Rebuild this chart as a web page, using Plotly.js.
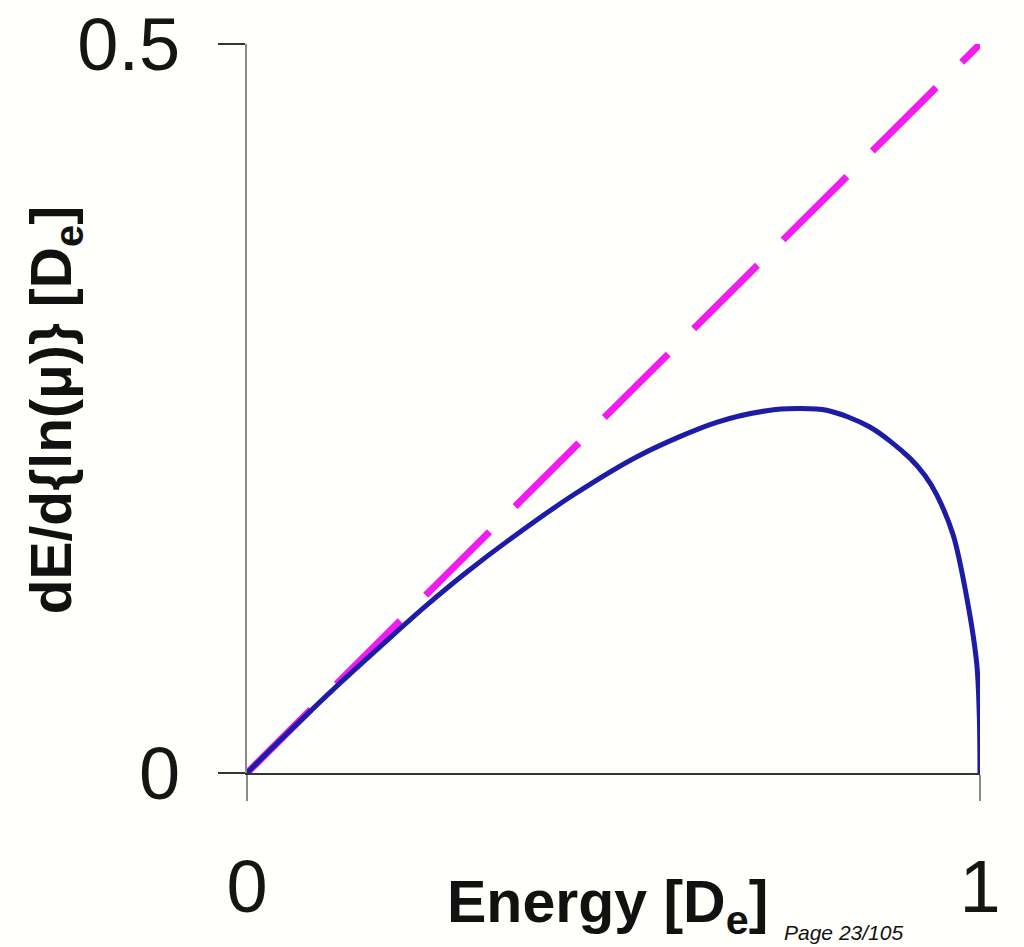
<!DOCTYPE html>
<html>
<head>
<meta charset="utf-8">
<script src="https://cdn.plot.ly/plotly-3.0.1.min.js"></script>
<style>html,body{margin:0;padding:0;background:#fffffb;}#chart{width:1024px;height:947px;}</style>
</head>
<body>
<div id="chart"></div>
<script>
// Energy [De] (x) and dE/d{ln(mu)} [De] (y)
const energyCurve = [0, 0.0628, 0.1265, 0.1900, 0.2448, 0.3000, 0.3626, 0.4445, 0.5360, 0.6406, 0.7089, 0.7500, 0.7908, 0.8497, 0.9043, 0.9249, 0.9408, 0.9635, 0.9818, 0.9955, 0.9990, 1.0];
const slopeCurve  = [0, 0.0310, 0.0615, 0.0905, 0.1150, 0.1379, 0.1617, 0.1905, 0.2180, 0.2405, 0.2485, 0.2500, 0.2488, 0.2373, 0.2160, 0.2040, 0.1910, 0.1630, 0.1207, 0.0752, 0.0400, 0.0];
const energyLine = [0, 1];
const slopeLine  = [0, 0.5];
const xTickVals = [0, 1];
const xTickText = ['0', '1'];
const yTickVals = [0, 0.5];
const yTickText = ['0', '0.5'];

const traces = [
  {x: energyLine, y: slopeLine, mode: 'lines', type: 'scatter',
   line: {color: '#f21cf0', width: 7, dash: '90px,36px'}, hoverinfo: 'skip'},
  {x: energyCurve, y: slopeCurve, mode: 'lines', type: 'scatter',
   line: {color: '#1d1ca6', width: 5, shape: 'spline', smoothing: 0.9}, hoverinfo: 'skip'}
];

const layout = {
  width: 1024, height: 947,
  paper_bgcolor: '#fffffb', plot_bgcolor: '#fffffb',
  showlegend: false,
  margin: {l: 247, r: 44, t: 44, b: 174, pad: 0},
  font: {family: '"Liberation Sans", Arial, sans-serif', color: '#111'},
  xaxis: {
    range: [0, 1], tickvals: xTickVals, ticktext: xTickText,
    showgrid: false, zeroline: false,
    showline: true, linecolor: '#333', linewidth: 2,
    ticks: 'outside', ticklen: 26, tickwidth: 2, tickcolor: '#8a8a8a',
    ticklabelstandoff: 22,
    tickfont: {size: 74, color: '#151515'},
    fixedrange: true
  },
  yaxis: {
    range: [0, 0.5], tickvals: yTickVals, ticktext: yTickText,
    showgrid: false, zeroline: false,
    showline: true, linecolor: '#8a8a8a', linewidth: 2,
    ticks: 'outside', ticklen: 27, tickwidth: 2, tickcolor: '#333',
    ticklabelstandoff: 23,
    tickfont: {size: 74, color: '#151515'},
    fixedrange: true
  },
  annotations: [
    {text: '<b>dE/d{ln(μ)} [D<sub>e</sub>]</b>', xref: 'paper', yref: 'paper', x: 0, y: 0.4975, xshift: -192,
     textangle: -90, xanchor: 'center', yanchor: 'middle', showarrow: false, font: {size: 57, color: '#111'}},
    {text: '<b>Energy [D<sub>e</sub>]</b>', xref: 'paper', yref: 'paper', x: 0.4915, y: 0, yshift: -133,
     xanchor: 'center', yanchor: 'middle', showarrow: false, font: {size: 59, color: '#111'}},
    {text: '<i>Page 23/105</i>', xref: 'paper', yref: 'paper', x: 1, y: 0, xshift: -198, yshift: -159,
     xanchor: 'left', yanchor: 'middle', showarrow: false, font: {size: 21, color: '#111'}}
  ]
};

Plotly.newPlot('chart', traces, layout, {staticPlot: true, displayModeBar: false});
</script>
</body>
</html>
